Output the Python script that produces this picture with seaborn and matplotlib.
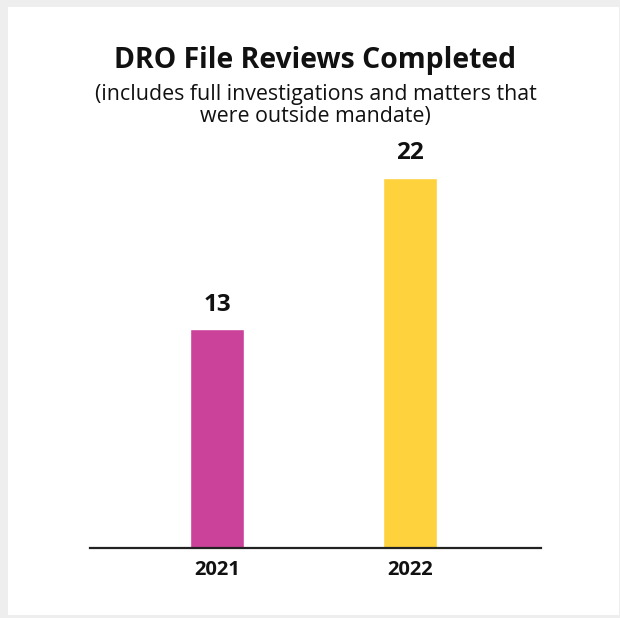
import matplotlib
matplotlib.use('Agg')
import seaborn as sns
import matplotlib.pyplot as plt
from matplotlib.patches import Rectangle

# data
years = ['2021', '2022']
reviews = [13, 22]
bar_colors = ['#CA4299', '#FED23C']

sns.set_theme(style='white')
plt.rcParams['font.family'] = ['Open Sans', 'DejaVu Sans']

W, H = 620, 618
fig = plt.figure(figsize=(W / 100, H / 100), dpi=100, facecolor='#EEEEEE')
# white card on the light gray background
fig.patches.append(Rectangle((8 / W, 3 / H), 611 / W, 608 / H, transform=fig.transFigure,
                             facecolor='white', edgecolor='none', zorder=-5))

ax = fig.add_axes([90 / W, 1 - 548 / H, 451 / W, 394 / H])
ax.set_facecolor('none')

sns.barplot(x=years, y=reviews, hue=years, palette=bar_colors, width=0.28,
            saturation=1, legend=False, ax=ax)

ax.set_xlim(-0.658, 1.679)
ax.set_ylim(0, 23.4)

for i, v in enumerate(reviews):
    ax.annotate(str(v), (i, v), xytext=(0, 9), textcoords='offset points',
                ha='center', va='bottom', fontsize=17.5, fontweight='bold', color='#111111')

for side in ['top', 'right', 'left']:
    ax.spines[side].set_visible(False)
ax.spines['bottom'].set_linewidth(1.6)
ax.spines['bottom'].set_color('#222222')
ax.set_yticks([])
ax.set_xlabel('')
ax.set_ylabel('')
ax.tick_params(axis='x', length=0, pad=8.5, labelsize=14.5, labelcolor='#111111')
for lbl in ax.get_xticklabels():
    lbl.set_fontweight('bold')

fig.text(315.5 / W, 1 - 67.7 / H, 'DRO File Reviews Completed', ha='center', va='baseline',
         fontsize=20.4, fontweight='bold', color='#111111')
fig.text(315.5 / W, 1 - 100 / H, '(includes full investigations and matters that',
         ha='center', va='baseline', fontsize=15.4, color='#111111')
fig.text(315.5 / W, 1 - 122 / H, 'were outside mandate)',
         ha='center', va='baseline', fontsize=15.4, color='#111111')

fig.savefig('out.png', dpi=100, facecolor=fig.get_facecolor())
